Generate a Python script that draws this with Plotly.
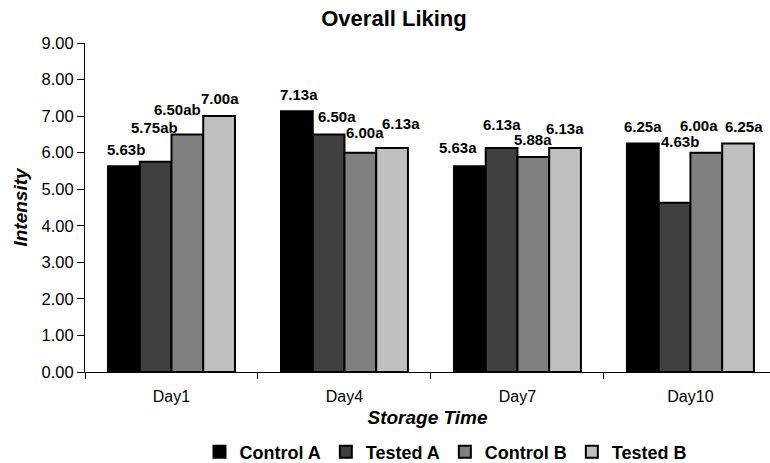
import plotly.graph_objects as go

days = ["Day1", "Day4", "Day7", "Day10"]
series_names = ["Control A", "Tested A", "Control B", "Tested B"]
control_a = [5.63, 7.13, 5.63, 6.25]
tested_a = [5.75, 6.50, 6.13, 4.63]
control_b = [6.50, 6.00, 5.88, 6.00]
tested_b = [7.00, 6.13, 6.13, 6.25]
letters_control_a = ["b", "a", "a", "a"]
letters_tested_a = ["ab", "a", "a", "b"]
letters_control_b = ["ab", "a", "a", "a"]
letters_tested_b = ["a", "a", "a", "a"]

values = [control_a, tested_a, control_b, tested_b]
letters = [letters_control_a, letters_tested_a, letters_control_b, letters_tested_b]
colors = ["#000000", "#404040", "#808080", "#c0c0c0"]

# label pixel offsets (dx, dy above bar top) per series, per day -- styling only
label_dx = [[2, 2, -12, 0], [-1, 8, 0, 5], [-10, 5, 0, -7], [1, 9, 0, 6]]
label_dy = [[17, 17, 19, 17], [34, 18, 23, 61], [25, 20, 18, 27], [18, 24, 19, 17]]

bargap = 0.266
bar_w = (1 - bargap) / 4
FONT = "Liberation Sans, Arial"

fig = go.Figure()
for i, name in enumerate(series_names):
    fig.add_trace(go.Bar(
        x=days, y=values[i], name=f"<b>{name}</b>",
        marker=dict(color=colors[i], line=dict(color="#000000", width=2)),
    ))

annotations = []
for i in range(4):
    for k in range(4):
        annotations.append(dict(
            x=k + (i - 1.5) * bar_w, y=values[i][k], xref="x", yref="y",
            text=f"<b>{values[i][k]:.2f}{letters[i][k]}</b>",
            showarrow=False, xanchor="center", yanchor="middle",
            xshift=label_dx[i][k], yshift=label_dy[i][k],
            font=dict(family=FONT, size=15, color="#000000"),
        ))

fig.update_layout(
    width=770, height=463,
    margin=dict(l=85, r=0, t=43, b=91, autoexpand=False),
    paper_bgcolor="white", plot_bgcolor="white",
    barmode="group", bargap=bargap, bargroupgap=0,
    title=dict(text="<b>Overall Liking</b>", x=394/770, xref="container", xanchor="center",
               y=1 - 18/463, yref="container", yanchor="middle",
               font=dict(family=FONT, size=22, color="#000000")),
    font=dict(family=FONT, color="#000000"),
    xaxis=dict(type="category", range=[-0.5, 3.46], showline=True, linecolor="#000000", linewidth=1,
               ticks="outside", tickson="boundaries", ticklen=6, tickcolor="#000000",
               ticklabelstandoff=10, automargin=False,
               tickfont=dict(size=16, family=FONT),
               title=dict(text="<b><i>Storage Time</i></b>", font=dict(size=19), standoff=6),
               showgrid=False, zeroline=False),
    yaxis=dict(range=[0, 9], dtick=1, tickformat=".2f", showline=True, linecolor="#000000", linewidth=1,
               ticks="outside", ticklen=7, tickcolor="#000000", automargin=False,
               tickfont=dict(size=16.5, family=FONT),
               title=dict(text="<b><i>Intensity</i></b>", font=dict(size=19), standoff=8),
               showgrid=False, zeroline=False),
    legend=dict(orientation="h", x=(446 - 85) / 685, xanchor="center", y=(372 - 452) / 329, yanchor="middle",
                font=dict(size=18, family=FONT), itemwidth=30,
                traceorder="normal"),
    annotations=annotations,
)

fig.write_html("out.html")
